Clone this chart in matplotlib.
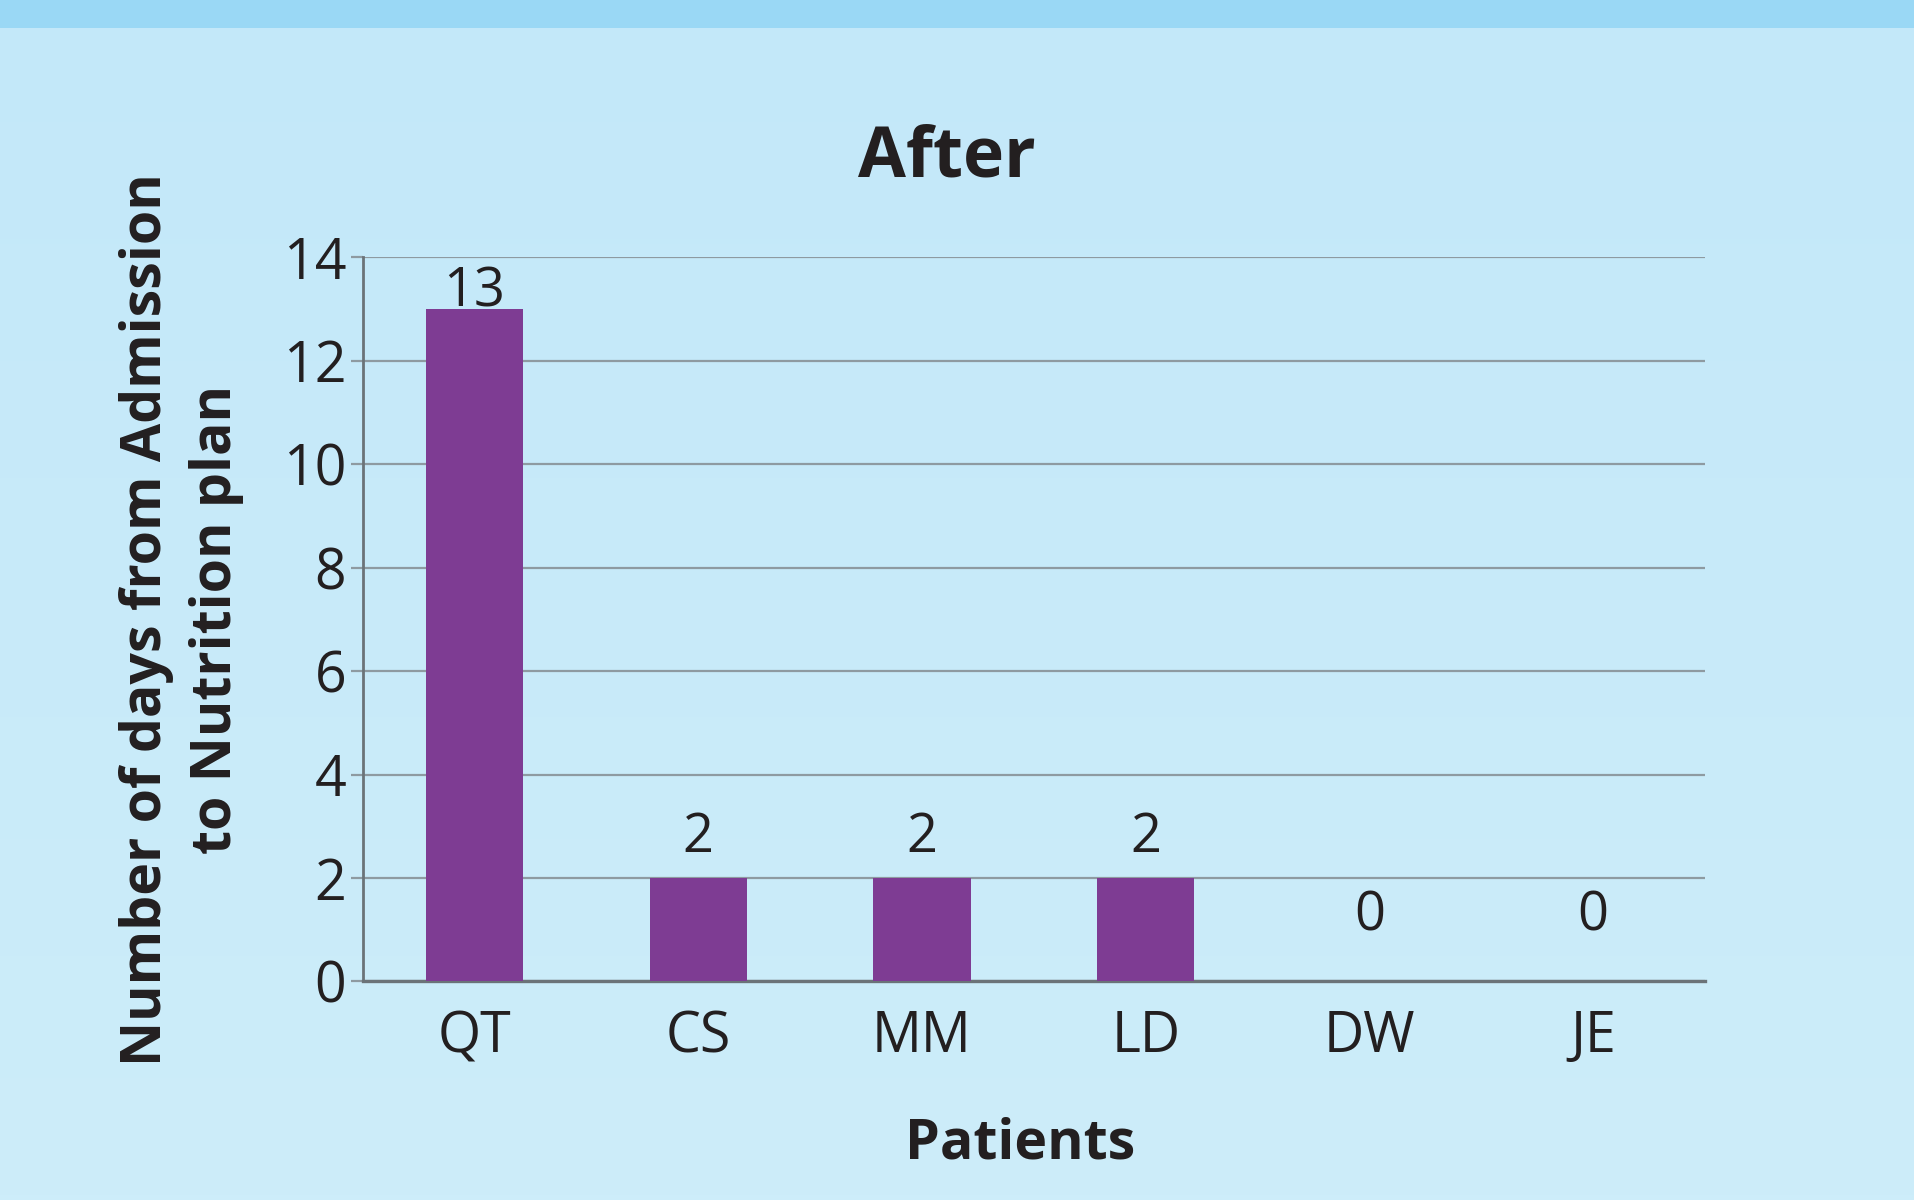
import numpy as np
import matplotlib
matplotlib.use("Agg")
import matplotlib.pyplot as plt
from matplotlib.patches import Rectangle

# data
patients = ["QT", "CS", "MM", "LD", "DW", "JE"]
days = [13, 2, 2, 2, 0, 0]
y_ticks = [0, 2, 4, 6, 8, 10, 12, 14]

# vertical offset (points) of each value label baseline above its bar
label_offsets = [1.5, 19, 19, 19, 37, 37]

plt.rcParams["font.family"] = ["Open Sans", "DejaVu Sans"]
text_color = "#231f20"
bar_color = "#7e3c93"
grid_color = "#8e9aa1"
axis_color = "#6b7378"

fig = plt.figure(figsize=(19.14, 12), dpi=100)

# background gradient + top band
bg = fig.add_axes([0, 0, 1, 1], zorder=-10)
grad = np.linspace(0, 1, 256).reshape(-1, 1)
bg.imshow(grad, aspect="auto", extent=[0, 1, 0, 1], origin="upper",
          cmap=matplotlib.colors.LinearSegmentedColormap.from_list("bg", ["#c3e8f9", "#cdedfa"]))
bg.add_patch(Rectangle((0, 1 - 28 / 1200), 1, 28 / 1200, color="#9ad8f5", lw=0))
bg.set_xlim(0, 1)
bg.set_ylim(0, 1)
bg.axis("off")

ax = fig.add_axes([0.1895, 0.1821, 0.7013, 0.6035])
ax.set_facecolor("none")

x = np.arange(len(patients))
ax.bar(x, days, width=0.436, color=bar_color, zorder=3)

for xi, d, off in zip(x, days, label_offsets):
    ax.annotate(str(d), (xi, d), xytext=(0, off), textcoords="offset points",
                ha="center", va="baseline", fontsize=39, color=text_color)

ax.set_xlim(-0.5, len(patients) - 0.5)
ax.set_ylim(0, 14)
ax.set_yticks(y_ticks)
ax.set_xticks(x)
ax.set_xticklabels(patients)
ax.yaxis.grid(True, color=grid_color, lw=1.6, zorder=0)
ax.set_axisbelow(True)

for s in ["top", "right"]:
    ax.spines[s].set_visible(False)
ax.spines["left"].set_color(axis_color)
ax.spines["left"].set_linewidth(2)
ax.spines["bottom"].set_color(axis_color)
ax.spines["bottom"].set_linewidth(2.4)

ax.tick_params(axis="y", length=9, width=1.6, color=grid_color, pad=3,
               labelsize=40, labelcolor=text_color)
ax.tick_params(axis="x", length=0, pad=20, labelsize=40, labelcolor=text_color)

ax.set_title("After", fontsize=50, fontweight="bold", color=text_color, pad=58, x=0.435)
ax.set_xlabel("Patients", fontsize=40, fontweight="bold", color=text_color,
              labelpad=36, x=0.49)
ax.set_ylabel("Number of days from Admission\nto Nutrition plan", fontsize=40,
              fontweight="bold", color=text_color, labelpad=28, linespacing=1.35)

fig.savefig("out.png", dpi=100)
